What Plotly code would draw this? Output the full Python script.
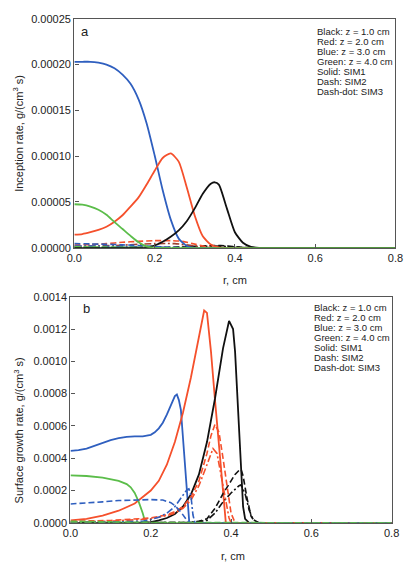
import plotly.graph_objects as go
import numpy as np

# ---------------- Panel a: inception rate (values in 1e-5 g/(cm^3 s)) ----------------
SCALE_A = 1e-5
blue_a_r = [0, 0.02, 0.04, 0.06, 0.08, 0.10, 0.12, 0.14, 0.16, 0.18, 0.20, 0.22, 0.24, 0.26, 0.28, 0.30, 0.35, 0.8]
blue_a_sim1 = [20.3, 20.3, 20.3, 20.2, 20.0, 19.6, 18.9, 17.9, 16.2, 13.6, 10.1, 6.3, 3.1, 1.0, 0.2, 0.0, 0.0, 0.0]
red_a_r = [0, 0.02, 0.04, 0.06, 0.08, 0.10, 0.12, 0.14, 0.16, 0.18, 0.20, 0.22, 0.24, 0.26, 0.28, 0.30, 0.32, 0.34, 0.36, 0.38, 0.42, 0.8]
red_a_sim1 = [1.43, 1.5, 1.7, 1.95, 2.3, 2.85, 3.55, 4.5, 5.5, 6.9, 8.4, 9.8, 10.3, 9.4, 6.6, 3.5, 1.25, 0.35, 0.05, 0, 0, 0]
black_a_r = [0, 0.12, 0.16, 0.18, 0.20, 0.22, 0.24, 0.26, 0.28, 0.30, 0.32, 0.34, 0.35, 0.36, 0.38, 0.40, 0.42, 0.44, 0.46, 0.50, 0.8]
black_a_sim1 = [0, 0, 0, 0.05, 0.25, 0.65, 1.2, 1.9, 2.9, 4.3, 5.9, 7.0, 7.15, 6.9, 4.3, 1.7, 0.55, 0.1, 0, 0, 0]
green_a_r = [0, 0.02, 0.04, 0.06, 0.08, 0.10, 0.12, 0.14, 0.16, 0.18, 0.20, 0.25, 0.8]
green_a_sim1 = [4.75, 4.7, 4.5, 4.15, 3.6, 2.8, 2.05, 1.3, 0.6, 0.15, 0, 0, 0]

blue_a2_r = [0, 0.04, 0.08, 0.12, 0.16, 0.20, 0.24, 0.28, 0.8]
blue_a_sim2 = [0.45, 0.42, 0.38, 0.32, 0.25, 0.15, 0.05, 0, 0]
blue_a3_r = [0, 0.1, 0.2, 0.25, 0.8]
blue_a_sim3 = [0.2, 0.15, 0.05, 0, 0]
red_a2_r = [0, 0.04, 0.08, 0.12, 0.16, 0.20, 0.24, 0.27, 0.30, 0.33, 0.36, 0.8]
red_a_sim2 = [0.3, 0.35, 0.45, 0.6, 0.7, 0.78, 0.78, 0.7, 0.4, 0.1, 0, 0]
red_a3_r = [0, 0.1, 0.2, 0.25, 0.3, 0.34, 0.8]
red_a_sim3 = [0.15, 0.25, 0.45, 0.45, 0.2, 0, 0]
black_a2_r = [0, 0.25, 0.3, 0.35, 0.38, 0.42, 0.45, 0.8]
black_a_sim2 = [0, 0.05, 0.15, 0.25, 0.2, 0.05, 0, 0]
black_a_sim3 = [0, 0.03, 0.1, 0.18, 0.14, 0.03, 0, 0]
green_a2_r = [0, 0.15, 0.2, 0.8]
green_a_sim2 = [0.1, 0.05, 0, 0]
green_a_sim3 = [0.05, 0.02, 0, 0]

# ---------------- Panel b: surface growth rate (values in 1e-4 g/(cm^3 s)) ----------------
SCALE_B = 1e-4
blue_b_r = [0, 0.02, 0.04, 0.06, 0.08, 0.10, 0.12, 0.14, 0.16, 0.18, 0.20, 0.21, 0.22, 0.23, 0.24, 0.25, 0.26, 0.265, 0.27, 0.275, 0.283, 0.29, 0.296, 0.8]
blue_b_sim1 = [4.46, 4.5, 4.6, 4.78, 4.98, 5.12, 5.24, 5.32, 5.35, 5.36, 5.45, 5.6, 5.85, 6.2, 6.7, 7.3, 7.85, 7.95, 7.6, 7.0, 4.5, 2.0, 0, 0]
red_b_r = [0, 0.04, 0.08, 0.12, 0.16, 0.20, 0.22, 0.24, 0.26, 0.28, 0.30, 0.31, 0.32, 0.333, 0.34, 0.35, 0.36, 0.37, 0.38, 0.387, 0.8]
red_b_sim1 = [0.15, 0.25, 0.45, 0.75, 1.2, 2.0, 2.6, 3.6, 5.0, 6.8, 9.0, 10.2, 11.6, 13.15, 13.0, 10.6, 7.6, 4.6, 1.8, 0, 0]
black_b_r = [0, 0.18, 0.20, 0.22, 0.24, 0.26, 0.28, 0.30, 0.32, 0.34, 0.36, 0.38, 0.395, 0.405, 0.41, 0.415, 0.42, 0.425, 0.43, 0.435, 0.445, 0.8]
black_b_sim1 = [0, 0, 0.05, 0.15, 0.3, 0.55, 1.0, 1.75, 3.0, 5.0, 7.7, 10.8, 12.5, 12.0, 10.6, 8.4, 6.2, 3.2, 1.0, 0.25, 0, 0]
green_b_r = [0, 0.04, 0.08, 0.10, 0.12, 0.14, 0.15, 0.16, 0.17, 0.18, 0.185, 0.19, 0.8]
green_b_sim1 = [2.94, 2.9, 2.8, 2.72, 2.6, 2.4, 2.2, 1.85, 1.3, 0.6, 0.15, 0, 0]

blue_b2_r = [0, 0.04, 0.08, 0.12, 0.16, 0.20, 0.23, 0.25, 0.26, 0.275, 0.29, 0.30, 0.8]
blue_b_sim2 = [1.17, 1.22, 1.3, 1.38, 1.43, 1.44, 1.41, 1.25, 1.07, 0.67, 0.16, 0, 0]
blue_b3_r = [0, 0.10, 0.18, 0.20, 0.22, 0.24, 0.26, 0.27, 0.28, 0.29, 0.295, 0.30, 0.305, 0.31, 0.8]
blue_b_sim3 = [0.05, 0.05, 0.1, 0.2, 0.35, 0.6, 1.0, 1.35, 1.75, 2.05, 2.1, 1.7, 0.5, 0, 0]
red_b2_r = [0, 0.10, 0.20, 0.24, 0.26, 0.28, 0.30, 0.32, 0.34, 0.35, 0.36, 0.37, 0.38, 0.39, 0.40, 0.41, 0.8]
red_b_sim2 = [0.1, 0.15, 0.3, 0.5, 0.7, 1.0, 1.6, 2.6, 4.3, 5.4, 6.1, 5.6, 4.0, 2.2, 0.6, 0, 0]
red_b3_r = [0, 0.10, 0.20, 0.24, 0.26, 0.28, 0.30, 0.32, 0.34, 0.355, 0.365, 0.375, 0.385, 0.395, 0.40, 0.8]
red_b_sim3 = [0.05, 0.1, 0.25, 0.45, 0.6, 0.9, 1.4, 2.3, 3.6, 4.6, 4.3, 3.0, 1.5, 0.3, 0, 0]
black_b2_r = [0, 0.30, 0.32, 0.34, 0.36, 0.38, 0.40, 0.41, 0.42, 0.425, 0.43, 0.44, 0.45, 0.46, 0.47, 0.8]
black_b_sim2 = [0, 0.02, 0.1, 0.25, 0.9, 1.8, 2.6, 3.0, 3.25, 3.3, 2.9, 1.5, 0.4, 0.05, 0, 0]
black_b3_r = [0, 0.30, 0.34, 0.36, 0.38, 0.40, 0.42, 0.425, 0.435, 0.445, 0.455, 0.47, 0.8]
black_b_sim3 = [0, 0.02, 0.15, 0.6, 1.3, 1.85, 2.3, 2.35, 1.8, 0.8, 0.2, 0, 0]
green_b2_r = [0, 0.1, 0.2, 0.8]
green_b_sim2 = [0.1, 0.08, 0.02, 0]
green_b_sim3 = [0.05, 0.04, 0.01, 0]

legend_lines = ["Black: z = 1.0 cm", "Red: z = 2.0 cm", "Blue: z = 3.0 cm", "Green: z = 4.0 cm",
                "Solid: SIM1", "Dash: SIM2", "Dash-dot: SIM3"]
x_ticks = [0.0, 0.2, 0.4, 0.6, 0.8]
ya_ticks = [0, 0.00005, 0.0001, 0.00015, 0.0002, 0.00025]
yb_ticks = [0, 0.0002, 0.0004, 0.0006, 0.0008, 0.0010, 0.0012, 0.0014]

BLACK = "#111111"
RED = "#f5502c"
BLUE = "#2f5fbf"
GREEN = "#5bbd4a"
DASH = "6px,3px"
DASHDOT = "7px,2.5px,2px,2.5px"

fig = go.Figure()

def add(r, v, scale, color, dash, ax, shape="spline"):
    width = 1.8 if dash == "solid" else 1.6
    fig.add_trace(go.Scatter(
        x=r, y=np.array(v) * scale, mode="lines",
        line=dict(color=color, width=width, dash=dash, shape=shape, smoothing=0.6),
        xaxis=ax[0], yaxis=ax[1], showlegend=False, hoverinfo="skip"))

A = ("x", "y")
B = ("x2", "y2")

# panel a - dashed first
add(black_a2_r, black_a_sim3, SCALE_A, BLACK, DASHDOT, A)
add(black_a2_r, black_a_sim2, SCALE_A, BLACK, DASH, A)
add(red_a3_r, red_a_sim3, SCALE_A, "#a04030", DASHDOT, A)
add(red_a2_r, red_a_sim2, SCALE_A, RED, DASH, A)
add(blue_a3_r, blue_a_sim3, SCALE_A, BLUE, DASHDOT, A)
add(blue_a2_r, blue_a_sim2, SCALE_A, BLUE, DASH, A)
add(green_a2_r, green_a_sim3, SCALE_A, GREEN, DASHDOT, A)
add(green_a2_r, green_a_sim2, SCALE_A, GREEN, DASH, A)
add(blue_a_r, blue_a_sim1, SCALE_A, BLUE, "solid", A)
add(red_a_r, red_a_sim1, SCALE_A, RED, "solid", A)
add(black_a_r, black_a_sim1, SCALE_A, BLACK, "solid", A)
add(green_a_r, green_a_sim1, SCALE_A, GREEN, "solid", A)

# panel b
add(blue_b_r, blue_b_sim1, SCALE_B, BLUE, "solid", B, "linear")
add(red_b_r, red_b_sim1, SCALE_B, RED, "solid", B, "linear")
add(black_b_r, black_b_sim1, SCALE_B, BLACK, "solid", B, "linear")
add(green_b_r, green_b_sim1, SCALE_B, GREEN, "solid", B, "linear")
add(black_b3_r, black_b_sim3, SCALE_B, BLACK, DASHDOT, B, "linear")
add(black_b2_r, black_b_sim2, SCALE_B, BLACK, DASH, B, "linear")
add(red_b3_r, red_b_sim3, SCALE_B, RED, DASHDOT, B, "linear")
add(red_b2_r, red_b_sim2, SCALE_B, RED, DASH, B, "linear")
add(blue_b3_r, blue_b_sim3, SCALE_B, BLUE, DASHDOT, B, "linear")
add(blue_b2_r, blue_b_sim2, SCALE_B, BLUE, DASH, B, "linear")
add(green_b2_r, green_b_sim3, SCALE_B, GREEN, DASHDOT, B, "linear")
add(green_b2_r, green_b_sim2, SCALE_B, GREEN, DASH, B, "linear")

W, H = 415, 568
FONT = "Liberation Sans, Arial, sans-serif"
TICKFONT = dict(family=FONT, size=11, color="#222")
axis_common = dict(showline=True, mirror=True, linecolor="#555", linewidth=1.4,
                   ticks="inside", ticklen=4, tickcolor="#555", showgrid=False,
                   zeroline=False, tickfont=TICKFONT)

fig.update_layout(
    width=W, height=H, margin=dict(l=0, r=0, t=0, b=0),
    paper_bgcolor="white", plot_bgcolor="white", showlegend=False,
    xaxis=dict(domain=[69 / W, 403 / W], range=[0, 0.8], tickvals=x_ticks,
               tickformat=".1f", anchor="y", **axis_common),
    yaxis=dict(domain=[1 - 247 / H, 1 - 13 / H], range=[0, 0.00025], tickvals=ya_ticks,
               tickformat=".5f", anchor="x", **axis_common),
    xaxis2=dict(domain=[65 / W, 399 / W], range=[0, 0.8], tickvals=x_ticks,
                tickformat=".1f", anchor="y2", **axis_common),
    yaxis2=dict(domain=[1 - 528 / H, 1 - 297 / H], range=[0, 0.0014], tickvals=yb_ticks,
                tickformat=".4f", anchor="x2", **axis_common),
)

ann = []
def px(xp, yp, text, size=11, xanchor="center", yanchor="middle", angle=0):
    ann.append(dict(xref="paper", yref="paper", x=xp / W, y=1 - yp / H, text=text,
                    showarrow=False, xanchor=xanchor, yanchor=yanchor, textangle=angle,
                    font=dict(family=FONT, size=size, color="#222")))

px(236, 280, "r, cm")
px(234, 562, "r, cm")
px(11, 130, "Inception rate, g/(cm<sup>3</sup> s)", angle=-90)
px(11, 434, "Surface growth rate, g/(cm<sup>3</sup> s)", angle=-90)
px(80, 26, "a", size=13)
px(82, 309, "b", size=13)
for i, t in enumerate(legend_lines):
    px(319, 26 + i * 10.2, t, size=9.5, xanchor="left")
    px(316, 308 + i * 10.2, t, size=9.5, xanchor="left")
fig.update_layout(annotations=ann)

fig.write_html("out.html")
